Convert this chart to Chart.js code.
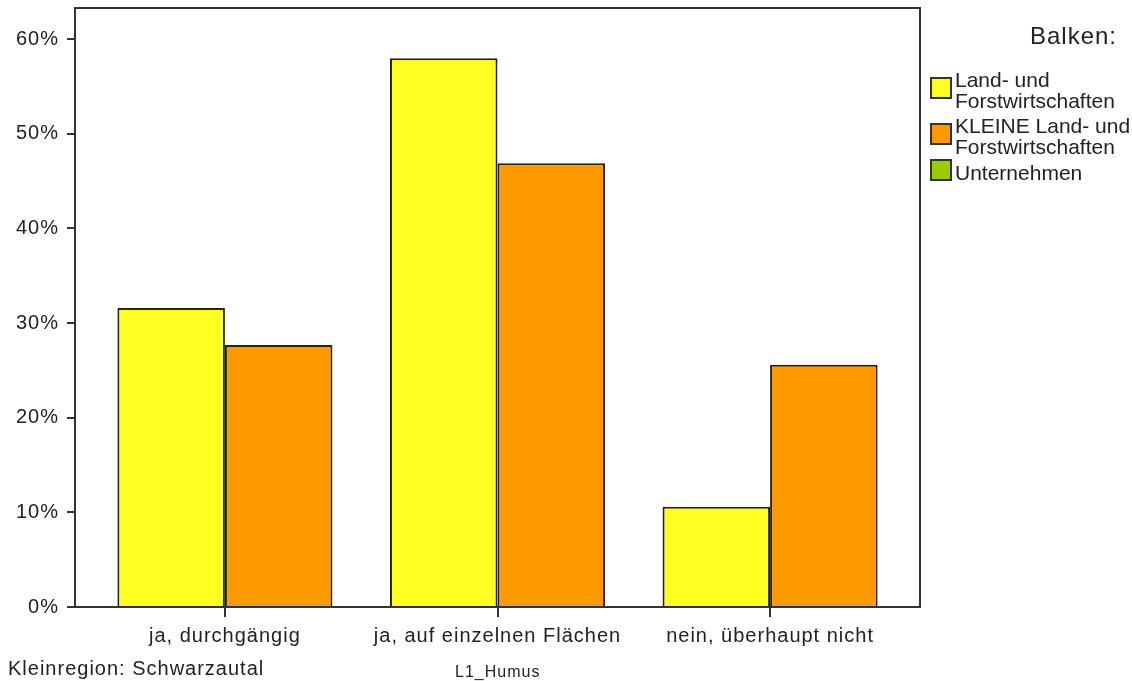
<!DOCTYPE html>
<html>
<head>
<meta charset="utf-8">
<script src="https://cdn.jsdelivr.net/npm/chart.js@4"></script>
<style>
  body { margin: 0; background: #fff; font-family: "Liberation Sans", Arial, sans-serif; color: #222; }
  #wrap { position: relative; width: 1132px; height: 681px; overflow: hidden; }
  .txt { position: absolute; white-space: nowrap; letter-spacing: 1px; }
  #legend { position: absolute; left: 930px; top: 69px; width: 210px; white-space: nowrap;
            font-size: 21px; line-height: 21px; letter-spacing: 0px; }
  .item { display: flex; align-items: center; margin-bottom: 4px; }
  .box { width: 18px; height: 18px; border: 2px solid #333; margin-right: 3px; flex: none; position: relative; top: -2px; }
</style>
</head>
<body>
<div id="wrap">
  <canvas id="chart" width="1132" height="681"></canvas>
  <div class="txt" style="right:15px; top:22px; font-size:24px;">Balken:</div>
  <div id="legend"></div>
  <div class="txt" style="left:8px; top:657px; font-size:20px;">Kleinregion: Schwarzautal</div>
  <div class="txt" style="left:455px; top:663px; font-size:16px;">L1_Humus</div>
</div>
<script>
// categories and series
const categories = ['ja, durchgängig', 'ja, auf einzelnen Flächen', 'nein, überhaupt nicht'];
const seriesNames = [['Land- und', 'Forstwirtschaften'], ['KLEINE Land- und', 'Forstwirtschaften'], ['Unternehmen']];
const seriesColors = ['#ffff22', '#ff9900', '#99cc00'];
const landForst = [31.6, 58.0, 10.6];
const kleineLandForst = [27.7, 46.9, 25.6];
const yTicks = [0, 10, 20, 30, 40, 50, 60];

// legend (third series has no bars in this chart)
const legend = document.getElementById('legend');
seriesNames.forEach((lines, i) => {
  const row = document.createElement('div');
  row.className = 'item';
  row.innerHTML = '<span class="box" style="background:' + seriesColors[i] + '"></span><span>' + lines.join('<br>') + '</span>';
  legend.appendChild(row);
});

// frame around the plot area + wider letter spacing for canvas text
const framePlugin = {
  id: 'frame',
  beforeDraw(chart) {
    chart.ctx.letterSpacing = '1px';
  },
  afterDraw(chart) {
    const a = chart.chartArea;
    const ctx = chart.ctx;
    ctx.save();
    ctx.strokeStyle = '#333';
    ctx.lineWidth = 2;
    ctx.strokeRect(a.left, a.top, a.right - a.left, a.bottom - a.top);
    ctx.restore();
  }
};

const toPoints = (vals) => vals.map((v, i) => ({ x: i, y: v }));

new Chart(document.getElementById('chart'), {
  type: 'bar',
  data: {
    datasets: [
      { label: seriesNames[0].join(' '), data: toPoints(landForst), backgroundColor: seriesColors[0],
        borderColor: '#222', borderWidth: 2, categoryPercentage: 0.789, barPercentage: 1 },
      { label: seriesNames[1].join(' '), data: toPoints(kleineLandForst), backgroundColor: seriesColors[1],
        borderColor: '#222', borderWidth: 2, categoryPercentage: 0.789, barPercentage: 1 }
    ]
  },
  options: {
    responsive: false,
    animation: false,
    devicePixelRatio: 1,
    layout: { padding: { left: 0, top: 8, right: 212, bottom: 0 } },
    plugins: { legend: { display: false }, tooltip: { enabled: false } },
    scales: {
      x: {
        type: 'linear',
        min: -0.55,
        max: 2.55,
        offset: false,
        border: { display: false },
        grid: { offset: false, drawOnChartArea: false, color: '#333', lineWidth: 2, tickLength: 10 },
        ticks: {
          stepSize: 1,
          includeBounds: false,
          autoSkip: false,
          maxRotation: 0,
          padding: 7,
          color: '#222',
          font: { family: 'Liberation Sans', size: 20 },
          callback: (v) => Number.isInteger(v) && categories[v] !== undefined ? categories[v] : ''
        },
        afterFit(scale) { scale.height = 74; scale.paddingLeft = 0; scale.paddingRight = 0; }
      },
      y: {
        min: 0,
        max: 63.3,
        border: { display: false },
        grid: { drawOnChartArea: false, color: '#333', lineWidth: 2, tickLength: 8 },
        afterBuildTicks(scale) { scale.ticks = yTicks.map(v => ({ value: v })); },
        ticks: {
          padding: 8,
          color: '#222',
          font: { family: 'Liberation Sans', size: 20 },
          callback: (v) => v + '%'
        },
        afterFit(scale) { scale.width = 75; scale.paddingTop = 0; scale.paddingBottom = 0; }
      }
    }
  },
  plugins: [framePlugin]
});
</script>
</body>
</html>
